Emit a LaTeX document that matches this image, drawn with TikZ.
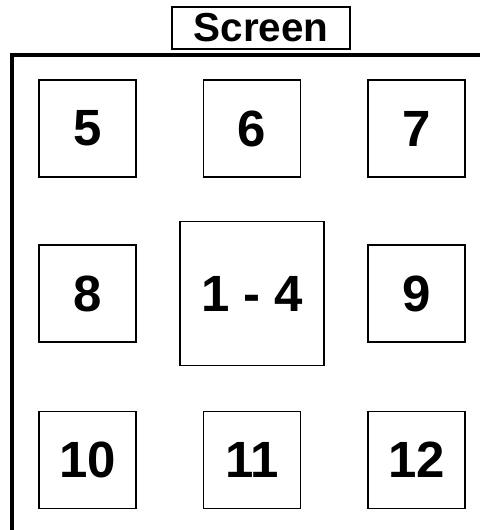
\documentclass[tikz,border=0pt]{standalone}
\usepackage{fontspec}
\setmainfont{Liberation Sans}
\begin{document}
\begin{tikzpicture}[
    seat/.style={
        draw,
        line width=1.1pt,
        minimum width=1.94cm,
        minimum height=1.94cm,
        font=\fontsize{29}{29}\selectfont\bfseries
    },
    bigseat/.style={
        seat,
        minimum width=2.88cm,
        minimum height=2.88cm
    },
    screenbox/.style={
        draw,
        line width=1.1pt,
        minimum width=3.56cm,
        minimum height=0.84cm,
        inner sep=0pt,
        font=\fontsize{23}{23}\selectfont\bfseries
    },
    wall/.style={line width=2.3pt}
]
\useasboundingbox (0,0) rectangle (9.6,-10.6);
\node[screenbox] (screen) at (5.22,-0.56) {Screen};
% room walls
\coordinate (wallbot) at (0.24,-10.6);
\coordinate (wallcorner) at (0.24,-1.1);
\coordinate (wallend) at (9.6,-1.1);
\draw[wall] (wallbot) -- (wallcorner) -- (wallend);
% seats
\node[seat] (s5) at (1.75,-2.57) {5};
\node[seat] (s6) at (5.04,-2.57) {6};
\node[seat] (s7) at (8.33,-2.57) {7};
\node[seat] (s8) at (1.75,-5.87) {8};
\node[bigseat] (s1to4) at (5.04,-5.87) {1 - 4};
\node[seat] (s9) at (8.33,-5.87) {9};
\node[seat] (s10) at (1.75,-9.2) {10};
\node[seat] (s11) at (5.04,-9.2) {11};
\node[seat] (s12) at (8.33,-9.2) {12};
\end{tikzpicture}
\end{document}
